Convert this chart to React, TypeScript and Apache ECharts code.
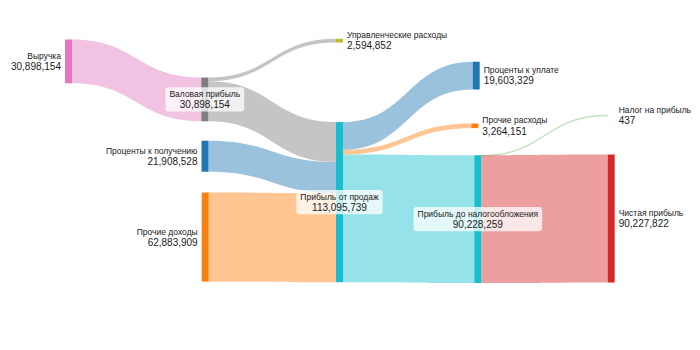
import React, { useEffect, useRef } from "react";
import * as echarts from "echarts";

// Nodes (listed column by column, top to bottom)
const nodeNames = [
  "Выручка",
  "Валовая прибыль",
  "Проценты к получению",
  "Прочие доходы",
  "Управленческие расходы",
  "Прибыль от продаж",
  "Проценты к уплате",
  "Прочие расходы",
  "Прибыль до налогообложения",
  "Налог на прибыль",
  "Чистая прибыль",
];
const nodeValues = [
  30898154, 30898154, 21908528, 62883909, 2594852, 113095739, 19603329, 3264151,
  90228259, 437, 90227822,
];
const nodeColumns = [0, 1, 1, 1, 2, 2, 3, 3, 3, 4, 4];

// Links
const linkSources = [
  "Выручка",
  "Валовая прибыль",
  "Валовая прибыль",
  "Проценты к получению",
  "Прочие доходы",
  "Прибыль от продаж",
  "Прибыль от продаж",
  "Прибыль от продаж",
  "Прибыль до налогообложения",
  "Прибыль до налогообложения",
];
const linkTargets = [
  "Валовая прибыль",
  "Управленческие расходы",
  "Прибыль от продаж",
  "Прибыль от продаж",
  "Прибыль от продаж",
  "Проценты к уплате",
  "Прочие расходы",
  "Прибыль до налогообложения",
  "Налог на прибыль",
  "Чистая прибыль",
];
const linkValues = [
  30898154, 2594852, 28303302, 21908528, 62883909, 19603329, 3264151, 90228259,
  437, 90227822,
];

// Styling / layout (kept separate from data)
const W = 700;
const H = 350;
const nodeColors = [
  "#e377c2", "#7f7f7f", "#1f77b4", "#ff7f0e", "#bcbd22", "#17becf",
  "#1f77b4", "#ff7f0e", "#17becf", "#2ca02c", "#d62728",
];
const linkColors = [
  "#e377c2", "#7f7f7f", "#7f7f7f", "#1f77b4", "#ff7f0e",
  "#1f77b4", "#ff7f0e", "#17becf", "#2ca02c", "#d62728",
];
const nodePosX = [65, 201.3, 201.5, 201.7, 336, 336, 472.7, 471.3, 474.3, 607.7, 607.7];
const nodePosY = [39.5, 77.5, 140.7, 192.5, 38.8, 122, 61.7, 123.5, 155.2, 115, 154.5];
const labelModes = ["left", "inside", "left", "left", "right", "inside", "right", "right", "inside", "right", "right"];

const TEXT = "#1a1a1a";
const FONT = "'Liberation Sans', Arial, sans-serif";

function hexToRgba(hex: string, a: number) {
  const n = parseInt(hex.slice(1), 16);
  return `rgba(${(n >> 16) & 255},${(n >> 8) & 255},${n & 255},${a})`;
}

const fmt = (v: number) => v.toLocaleString("en-US");

function buildLabel(mode: string) {
  const align = mode === "left" ? "right" : mode === "right" ? "left" : "center";
  const base: any = {
    show: true,
    position: mode,
    distance: 4,
    align,
    verticalAlign: "middle",
    fontFamily: FONT,
    color: TEXT,
    rich: {
      n: { fontSize: 8.5, lineHeight: 10.7, color: TEXT, fontFamily: FONT, align },
      v: { fontSize: 10, lineHeight: 10.7, color: TEXT, fontFamily: FONT, align },
    },
  };
  if (mode === "inside") {
    base.backgroundColor = "rgba(255,255,255,0.75)";
    base.borderRadius = 3;
    base.padding = [1.5, 4, 1.5, 4];
  }
  return base;
}

export default function App() {
  const ref = useRef<HTMLDivElement>(null);

  useEffect(() => {
    if (!ref.current) return;
    const chart = echarts.init(ref.current, undefined, { renderer: "svg" });

    const data = nodeNames.map((name, i) => ({
      name,
      depth: nodeColumns[i],
      localX: nodePosX[i] / W,
      localY: nodePosY[i] / H,
      itemStyle: { color: nodeColors[i], borderWidth: 0, opacity: 1 },
      label: buildLabel(labelModes[i]),
    }));

    const links = linkSources.map((s, i) => ({
      source: s,
      target: linkTargets[i],
      value: linkValues[i],
      lineStyle:
        linkValues[i] < 10000
          ? {
              color: hexToRgba(linkColors[i], 0.2),
              opacity: 1,
              borderColor: hexToRgba(linkColors[i], 0.22),
              borderWidth: 0.7,
            }
          : { color: hexToRgba(linkColors[i], 0.45), opacity: 1 },
    }));

    chart.setOption({
      animation: false,
      series: [
        {
          type: "sankey",
          left: 0,
          top: 0,
          width: W,
          height: H,
          nodeWidth: 7,
          nodeGap: 93,
          layoutIterations: 0,
          draggable: false,
          emphasis: { disabled: true },
          lineStyle: { curveness: 0.5, opacity: 1 },
          label: {
            formatter: (p: any) => {
              const idx = nodeNames.indexOf(p.name);
              return `{n|${p.name}}\n{v|${fmt(nodeValues[idx])}}`;
            },
          },
          data,
          links,
        },
      ],
    });

    return () => chart.dispose();
  }, []);

  return (
    <div
      ref={ref}
      style={{ position: "fixed", left: 0, top: 0, width: W, height: H, background: "#fff" }}
    />
  );
}
